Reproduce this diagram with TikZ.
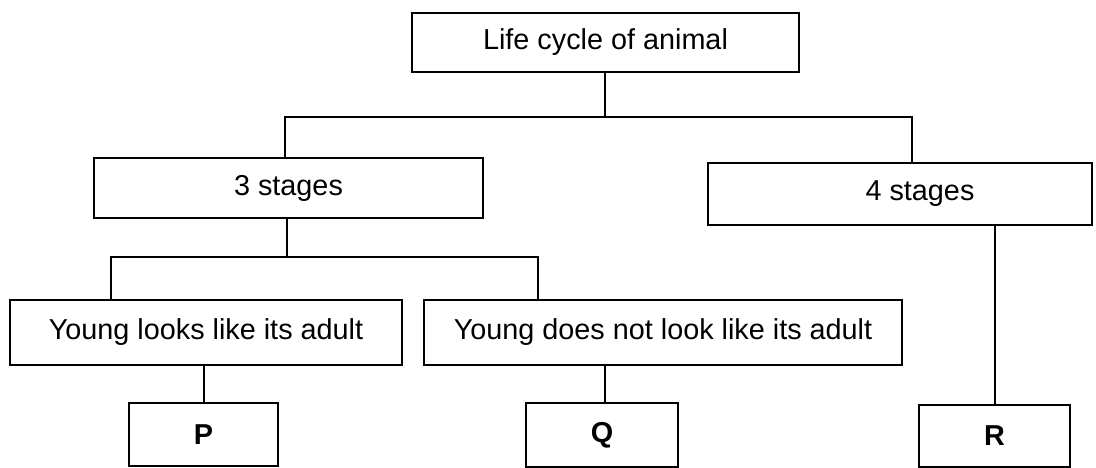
\documentclass[tikz,border=0pt]{standalone}
\usepackage{fontspec}
\setmainfont{Liberation Sans}
\begin{document}
\begin{tikzpicture}[x=1pt,y=-1pt,
  box/.style={draw=black,line width=2pt,inner sep=0pt,anchor=center,
    font=\fontsize{28.8}{34}\selectfont},
  lbox/.style={box,font=\fontsize{28.8}{34}\selectfont\bfseries},
  conn/.style={draw=black,line width=2pt}]
\useasboundingbox (0,0) rectangle (1096,468);
\node[box,minimum width=387pt,minimum height=59pt] (top) at (605.5,42.5) {Life cycle of animal};
\node[box,minimum width=389pt,minimum height=60pt] (s3) at (288.5,188) {3 stages};
\node[box,minimum width=384pt,minimum height=62pt] (s4) at (900,194) {\hspace*{40pt}4 stages};
\node[box,minimum width=392pt,minimum height=65pt] (y1) at (206,332.5) {Young looks like its adult};
\node[box,minimum width=478pt,minimum height=65pt] (y2) at (663,332.5) {Young does not look like its adult};
\node[lbox,minimum width=149pt,minimum height=63pt] (P) at (203.5,434.5) {P};
\node[lbox,minimum width=152pt,minimum height=64pt] (Q) at (602,435) {Q};
\node[lbox,minimum width=151pt,minimum height=62pt] (R) at (994.5,436) {R};
\coordinate (b1) at (605,117);
\coordinate (b1l) at (285,117);
\coordinate (b1r) at (912,117);
\coordinate (b2) at (287,257);
\coordinate (b2l) at (111,257);
\coordinate (b2r) at (538,257);
\coordinate (qx) at (605,400);
\draw[conn] (top.south -| b1) -- (b1);
\draw[conn] (s3.north -| b1l) -- (b1l) -- (b1r) -- (s4.north -| b1r);
\draw[conn] (s3.south -| b2) -- (b2);
\draw[conn] (y1.north -| b2l) -- (b2l) -- (b2r) -- (y2.north -| b2r);
\draw[conn] (y1.south -| P.north) -- (P.north);
\draw[conn] (y2.south -| qx) -- (Q.north -| qx);
\draw[conn] (s4.south -| R.north) -- (R.north);
\end{tikzpicture}
\end{document}
